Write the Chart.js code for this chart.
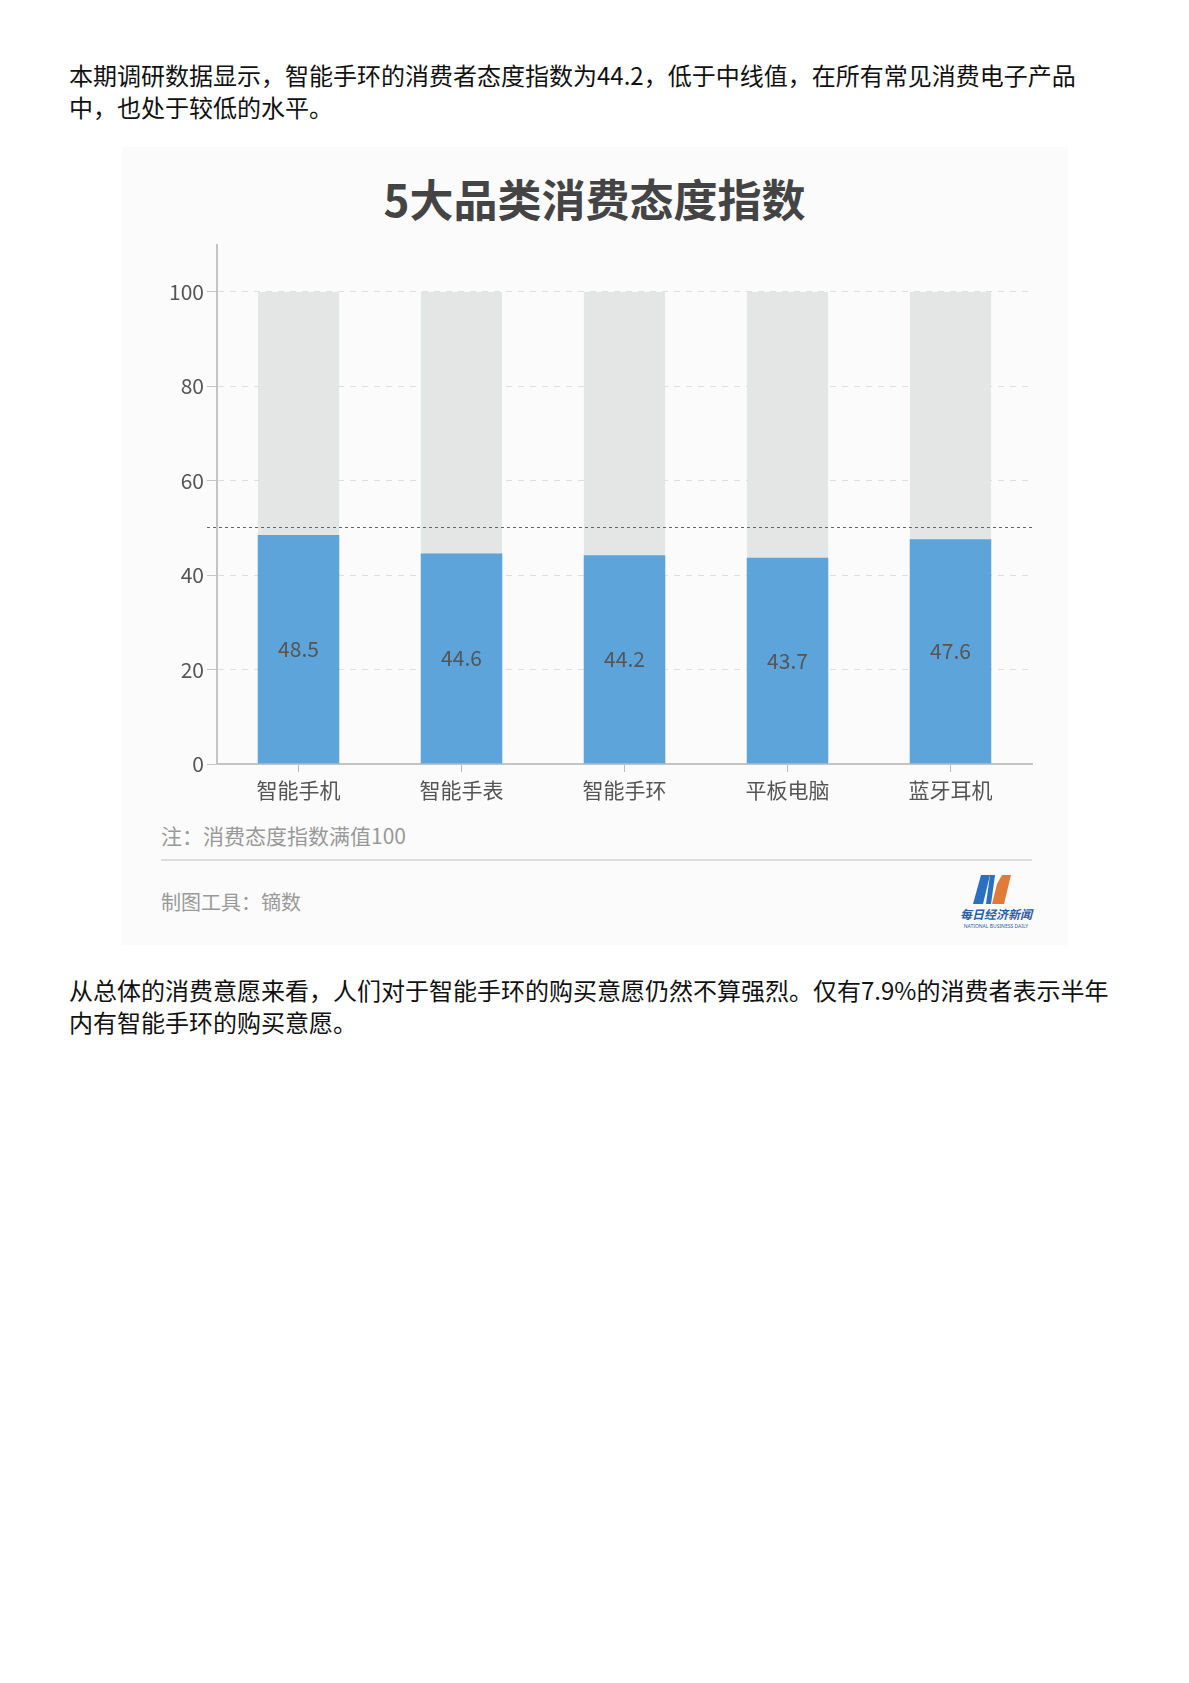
<!DOCTYPE html>
<html>
<head>
<meta charset="utf-8">
<script src="https://cdn.jsdelivr.net/npm/chart.js@4/dist/chart.umd.min.js"></script>
<style>
  html, body { margin:0; padding:0; background:#fff; }
  body { width:1189px; height:1683px; position:relative; font-family:"Noto Sans CJK SC","Noto Sans",sans-serif; }
  .para { position:absolute; left:69px; width:1110px; font-size:24px; line-height:32px; color:#111; white-space:nowrap; }
  #panel { position:absolute; left:122px; top:147px; width:946px; height:798px; background:#fbfbfb; }
  #title { position:absolute; left:0; width:1189px; top:168px; text-align:center; font-size:44px; font-weight:bold; color:#444; line-height:60px; }
  #wrap { position:absolute; left:118px; top:229px; width:950px; height:590px; }
  #note { position:absolute; left:161px; top:820px; font-size:21px; color:#999; line-height:30px; }
  #sep { position:absolute; left:161px; top:859px; width:871px; height:2px; background:#ddd; }
  #tool { position:absolute; left:161px; top:887px; font-size:20px; color:#999; line-height:30px; }
  #logo { position:absolute; left:956px; top:873px; width:80px; height:58px; }
</style>
</head>
<body>
<div class="para" style="top:59px;">本期调研数据显示，智能手环的消费者态度指数为44.2，低于中线值，在所有常见消费电子产品<br>中，也处于较低的水平。</div>
<div id="panel"></div>
<div id="title">5大品类消费态度指数</div>
<div id="wrap"><canvas id="c" width="950" height="590"></canvas></div>
<div id="note">注：消费态度指数满值100</div>
<div id="sep"></div>
<div id="tool">制图工具：镝数</div>
<svg id="logo" viewBox="0 0 80 58">
  <polygon points="25,2 34,2 27,31 17,31" fill="#2a6fc0"/>
  <polygon points="34,2 39,2 35,31 30,31" fill="#2a6fc0"/>
  <polygon points="46,2 55,2 48,31 36,31 41,11" fill="#e07b3a"/>
  <text x="40" y="46" text-anchor="middle" font-size="12" font-weight="bold" font-style="italic" fill="#2a5da8" font-family="Noto Sans CJK SC">每日经济新闻</text>
  <text x="40" y="55" text-anchor="middle" font-size="5" fill="#2a5da8" font-family="Noto Sans">NATIONAL BUSINESS DAILY</text>
</svg>
<div class="para" style="top:974px;">从总体的消费意愿来看，人们对于智能手环的购买意愿仍然不算强烈。仅有7.9%的消费者表示半年<br>内有智能手环的购买意愿。</div>

<script>
const categories = ["智能手机", "智能手表", "智能手环", "平板电脑", "蓝牙耳机"];
const indexValues = [48.5, 44.6, 44.2, 43.7, 47.6];
const fullValues = [100, 100, 100, 100, 100];
const tickValues = [0, 20, 40, 60, 80, 100];
const medianValue = 50;
const axisMax = 110;

const FONT = '"Noto Sans CJK SC","Noto Sans",sans-serif';

const labelPlugin = {
  id: 'barLabels',
  afterDatasetsDraw(chart) {
    const ctx = chart.ctx;
    const meta = chart.getDatasetMeta(0);
    ctx.save();
    ctx.font = '21px ' + FONT;
    ctx.fillStyle = '#555';
    ctx.textAlign = 'center';
    ctx.textBaseline = 'middle';
    meta.data.forEach((bar, i) => {
      const y = (bar.y + bar.base) / 2;
      ctx.fillText(String(indexValues[i]), bar.x, y);
    });
    ctx.restore();
  }
};

const medianPlugin = {
  id: 'median',
  afterDatasetsDraw(chart) {
    const ctx = chart.ctx;
    const y = Math.round(chart.scales.y.getPixelForValue(medianValue)) - 0.5;
    ctx.save();
    ctx.strokeStyle = '#666';
    ctx.lineWidth = 1.2;
    ctx.setLineDash([3, 3]);
    ctx.beginPath();
    ctx.moveTo(chart.chartArea.left - 10, y);
    ctx.lineTo(chart.chartArea.right + 1, y);
    ctx.stroke();
    ctx.restore();
  }
};

new Chart(document.getElementById('c'), {
  type: 'bar',
  data: {
    labels: categories,
    datasets: [
      { data: indexValues, backgroundColor: '#5ca4da', borderWidth: 0, barPercentage: 0.5, categoryPercentage: 1, grouped: false },
      { data: fullValues, backgroundColor: '#e4e5e5', borderColor: '#dcdfe0', borderWidth: {left:1, right:1, top:0, bottom:0}, barPercentage: 0.5, categoryPercentage: 1, grouped: false }
    ]
  },
  options: {
    responsive: false,
    animation: false,
    devicePixelRatio: 1,
    layout: { padding: { left: 0, right: 36, top: 15, bottom: 0 } },
    plugins: { legend: { display: false }, tooltip: { enabled: false }, title: { display: false } },
    scales: {
      x: {
        grid: { display: true, offset: false, drawOnChartArea: false, drawTicks: true, tickLength: 8, color: '#bbb' },
        border: { display: true, color: '#c4c4c4', width: 2 },
        ticks: { color: '#555', font: { family: FONT, size: 21 }, padding: 5 },
        afterFit(s) { s.height = 55; }
      },
      y: {
        min: 0, max: axisMax,
        afterBuildTicks(s) { s.ticks = tickValues.map(v => ({ value: v })); },
        grid: { color: '#dedede', tickColor: '#c4c4c4', tickLength: 10, tickBorderDash: [], drawTicks: true },
        border: { display: true, color: '#c4c4c4', width: 2, dash: [6, 6] },
        ticks: { color: '#555', font: { family: FONT, size: 21 }, padding: 3 },
        afterFit(s) { s.width = 99; }
      }
    }
  },
  plugins: [labelPlugin, medianPlugin]
});
</script>
</body>
</html>
